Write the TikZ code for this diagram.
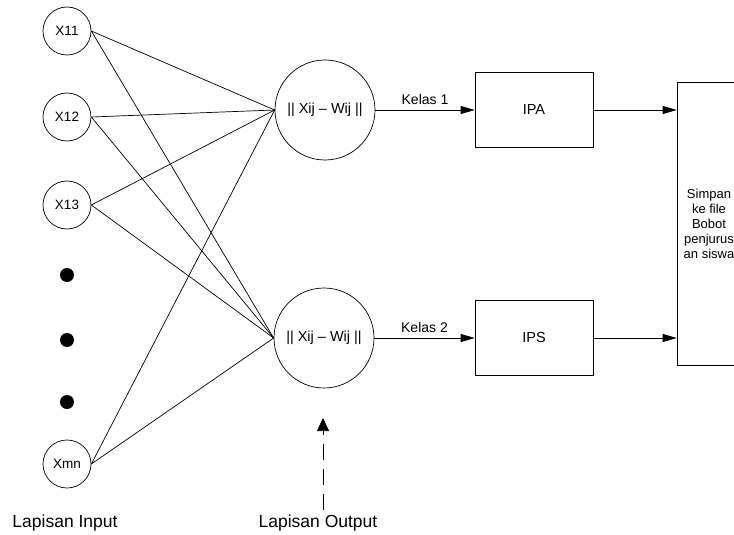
\documentclass[tikz,border=0pt]{standalone}
\usepackage{fontspec}
\setmainfont{Liberation Sans}
\usetikzlibrary{positioning,arrows.meta}

\begin{document}
\begin{tikzpicture}[x=1pt, y=-1pt
        , line width=.7pt
        , inp/.style={ draw, circle, minimum size=48pt, inner sep=0pt, font=\fontsize{13.5}{15}\selectfont }
        , outp/.style={ draw, circle, minimum size=100pt, inner sep=0pt, font=\fontsize{14.5}{16}\selectfont }
        , kotak/.style={ draw, rectangle, minimum width=118pt, minimum height=75pt, font=\fontsize{14.5}{16}\selectfont }
        , titik/.style={ circle, fill=black, minimum size=14pt, inner sep=0pt }
        , lbl/.style={ font=\fontsize{14}{16}\selectfont }
        , lapis/.style={ font=\fontsize{17.5}{19}\selectfont }
        , panah/.style={ -{Triangle[length=14pt,width=8pt]} }
        ]
        \useasboundingbox (0,0) rectangle (734,535);
        \clip (0,0) rectangle (734,535);

        % input layer
        \foreach \n/\t/\y in {x11/X11/31, x12/X12/117, x13/X13/205, xmn/Xmn/464}
            \node[inp] (\n) at (67,\y) {\t};

        \foreach \y in {275,340,402}
            \node[titik] (d\y) at (67,\y) {};

        % output layer
        \node[outp] (o1) at (325,110) {|| Xij -- Wij ||};
        \node[outp] (o2) at (324,338) {|| Xij -- Wij ||};

        \foreach \n in {x11,x12,x13,xmn}
            \draw (\n.east) -- (o1.west) (\n.east) -- (o2.west);

        % kelas
        \node[kotak] (ipa) at (534,110) {IPA};
        \node[kotak] (ips) at (534,338) {IPS};

        \draw[panah] (o1) -- node[above=2pt, lbl] (k1) {Kelas 1} (ipa);
        \draw[panah] (o2) -- node[above=2pt, lbl] (k2) {Kelas 2} (ips);

        % simpan bobot
        \node[draw, minimum width=64pt, minimum height=283pt, align=center
            , font=\fontsize{13}{15}\selectfont] (simpan) at (709,223.5)
            {Simpan\\ke file\\Bobot\\penjurus\\an siswa};

        \draw[panah] (ipa.east) -- (ipa.east -| simpan.west);
        \draw[panah] (ips.east) -- (ips.east -| simpan.west);

        % keterangan lapisan
        \coordinate (dasar) at (323,510);
        \coordinate (ujung) at (323,418);
        \draw[-{Triangle[length=13pt,width=12pt]}, dash pattern=on 16pt off 9pt] (dasar) -- (ujung);

        \node[lapis] (linput) at (65,523) {Lapisan Input};
        \node[lapis] (loutput) at (318,523) {Lapisan Output};

    \end{tikzpicture}
\end{document}
